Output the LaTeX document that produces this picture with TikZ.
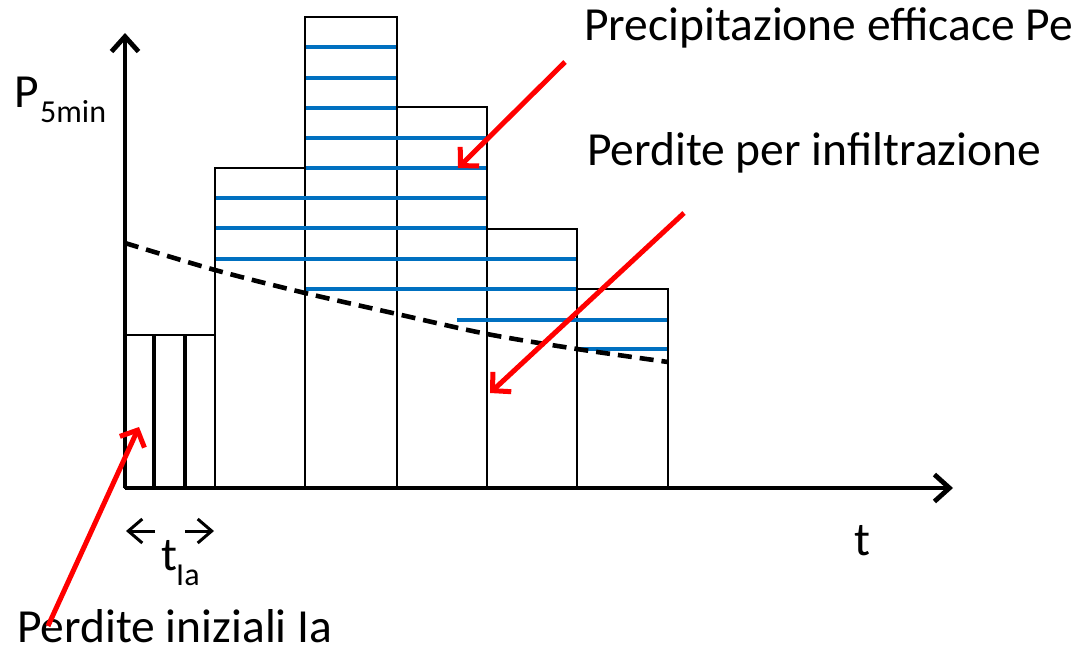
\documentclass[tikz,border=0pt]{standalone}
\usepackage{fontspec}
\setmainfont{Carlito}
\usetikzlibrary{arrows.meta}
\definecolor{barblue}{RGB}{0,112,192}
\definecolor{arred}{RGB}{255,0,0}
\tikzset{
  axisline/.style={line width=4.8pt,-{Straight Barb[length=15pt,width=27pt,line width=4.8pt]}},
  barbox/.style={draw=black,line width=2.7pt},
  thinsep/.style={draw=black,line width=3.4pt},
  effline/.style={draw=barblue,line width=3.4pt},
  lossline/.style={draw=black,line width=4.6pt,dash pattern=on 14pt off 8pt},
  redarrow/.style={draw=arred,line width=5pt,-{Straight Barb[length=13pt,width=27pt,line width=5pt]}},
  smallarrow/.style={line width=3pt,-{Straight Barb[length=14pt,width=24pt,line width=3pt]}},
  bigtext/.style={inner sep=0pt,anchor=base west,font=\fontsize{47.5}{54}\selectfont},
  subtext/.style={inner sep=0pt,anchor=base west,font=\fontsize{32}{36}\selectfont},
}
\begin{document}
\begin{tikzpicture}[x=1pt,y=-1pt]
\useasboundingbox (0,0) rectangle (1082,648);
% bars
\draw[barbox] (125,335) rectangle (215,488);
\draw[barbox] (215,168) rectangle (305,488);
\draw[barbox] (305,17) rectangle (397,488);
\draw[barbox] (397,107) rectangle (487,488);
\draw[barbox] (487,229) rectangle (577,488);
\draw[barbox] (577,289) rectangle (668,488);
\draw[thinsep] (154,335) -- (154,488);
\draw[thinsep] (185,335) -- (185,488);
% effective precipitation lines
\foreach \y in {47,78,108} \draw[effline] (306,\y) -- (396,\y);
\foreach \y in {138,168} \draw[effline] (306,\y) -- (486,\y);
\foreach \y in {198,228} \draw[effline] (216,\y) -- (486,\y);
\draw[effline] (216,259) -- (576,259);
\draw[effline] (306,289) -- (576,289);
\draw[effline] (457,320) -- (667,320);
\draw[effline] (578,349) -- (667,349);
% loss curve
\draw[lossline] plot[smooth] coordinates {(125,243) (215,270) (305,293) (397,314) (487,334) (577,349) (668,362)};
% axes
\coordinate (O) at (125,488);
\coordinate (ytip) at (125,33);
\coordinate (xtip) at (953,488);
\draw[axisline] (O) -- (ytip);
\draw[axisline] (O) -- (xtip);
% t_Ia arrows
\coordinate (tl1) at (155,531);
\coordinate (tl2) at (126,531);
\coordinate (tr1) at (185,531);
\coordinate (tr2) at (214,531);
\draw[smallarrow] (tl1) -- (tl2);
\draw[smallarrow] (tr1) -- (tr2);
% labels
\node[bigtext] (pe) at (584,40) {Precipitazione efficace Pe};
\node[bigtext] (pinf) at (587,165) {Perdite per infiltrazione};
\node[bigtext,text depth=0pt] (pin) at (17,642) {Perdite iniziali Ia};
\node[bigtext] (t) at (854,555) {t};
\node[bigtext] (P) at (14,107) {P};
\node[subtext] (psub) at (40,122) {5min};
\node[bigtext] (tia) at (161,570) {t};
\node[subtext] (tiasub) at (176,585) {Ia};
% red arrows
\coordinate (a1s) at (565,62);
\coordinate (a1e) at (458,168);
\coordinate (a2s) at (684,213);
\coordinate (a2e) at (490,393);
\coordinate (a3s) at (48,626);
\coordinate (a3e) at (139,427);
\draw[redarrow] (a1s) -- (a1e);
\draw[redarrow] (a2s) -- (a2e);
\draw[redarrow] (a3s) -- (a3e);
\end{tikzpicture}
\end{document}
